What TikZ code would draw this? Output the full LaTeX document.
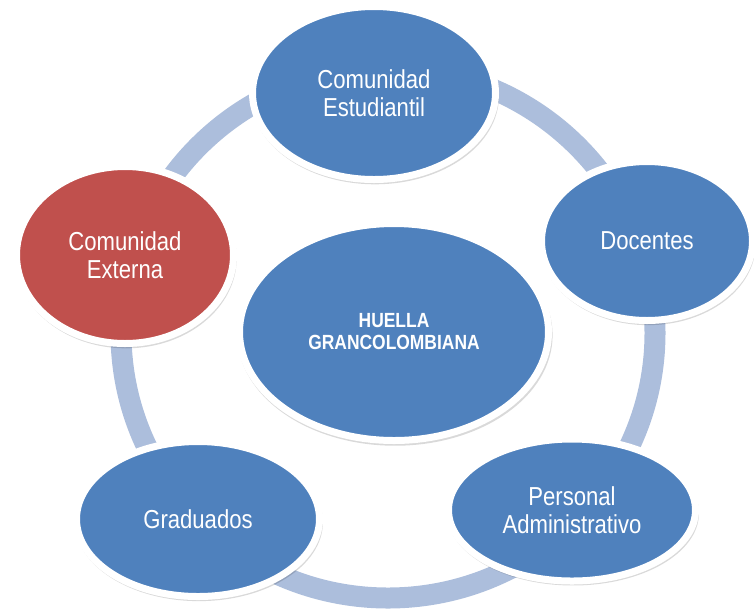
\documentclass[tikz,border=0pt]{standalone}
\usepackage{fontspec}
\setmainfont{Liberation Sans}[FakeStretch=0.85]
\usetikzlibrary{shapes.geometric,shadows}
\definecolor{huellablue}{RGB}{79,129,189}
\definecolor{huellared}{RGB}{192,80,77}
\definecolor{huellaring}{RGB}{172,190,220}
\begin{document}
\begin{tikzpicture}[x=1pt, y=-1pt,
  blob/.style={ellipse, fill=huellablue, draw=white, line width=7pt, text=white,
    align=center, inner sep=0pt,
    font=\fontsize{26}{28}\selectfont,
    drop shadow={shadow xshift=1pt, shadow yshift=-3pt, shadow scale=1.02, opacity=.15, fill=black}},
  ring/.style={draw=huellaring, line width=21pt}]
\useasboundingbox (0,0) rectangle (754,614);
\draw[ring] (388,333) ellipse [x radius=267, y radius=265];
\node[blob, minimum width=309pt, minimum height=217pt, font=\fontsize{20.5}{22}\selectfont\bfseries] (huella) at (394,332) {HUELLA\\GRANCOLOMBIANA};
\node[blob, minimum width=243pt, minimum height=173pt] (estudiantil) at (374,93) {Comunidad\\Estudiantil};
\node[blob, minimum width=211pt, minimum height=159pt] (docentes) at (647,241) {Docentes};
\node[blob, minimum width=247pt, minimum height=142pt] (personal) at (572,510) {Personal\\Administrativo};
\node[blob, minimum width=243pt, minimum height=155pt] (graduados) at (198,519) {Graduados};
\node[blob, fill=huellared, minimum width=217pt, minimum height=177pt] (externa) at (125,255) {Comunidad\\Externa};
\end{tikzpicture}
\end{document}
